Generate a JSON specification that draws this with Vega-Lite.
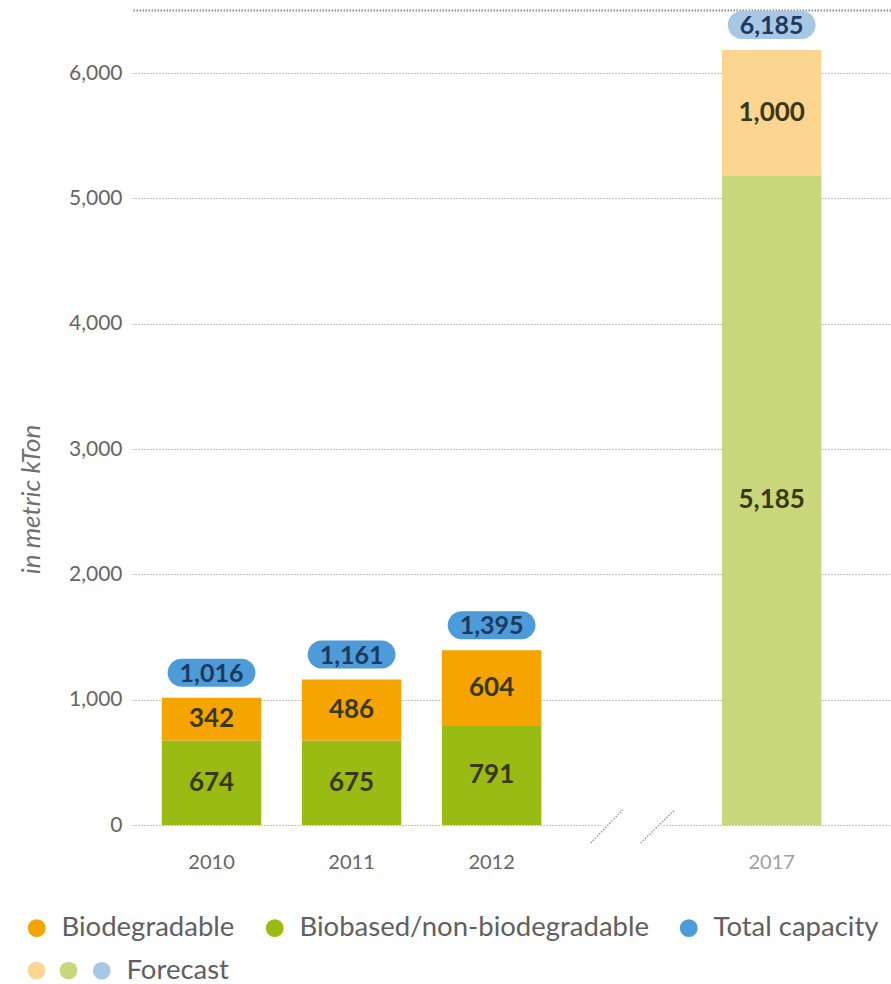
{
  "$schema": "https://vega.github.io/schema/vega-lite/v6.json",
  "width": 759,
  "height": 802,
  "autosize": "none",
  "padding": {"left": 132, "top": 23, "right": 0, "bottom": 159},
  "background": "white",
  "config": {"view": {"stroke": null}, "font": "Lato", "legend": {"padding": 0}},
  "datasets": {
    "bars": [
      {"year": "2010", "series": "Biobased/non-biodegradable", "status": "Actual", "value": 674},
      {"year": "2010", "series": "Biodegradable", "status": "Actual", "value": 342},
      {"year": "2011", "series": "Biobased/non-biodegradable", "status": "Actual", "value": 675},
      {"year": "2011", "series": "Biodegradable", "status": "Actual", "value": 486},
      {"year": "2012", "series": "Biobased/non-biodegradable", "status": "Actual", "value": 791},
      {"year": "2012", "series": "Biodegradable", "status": "Actual", "value": 604},
      {"year": "2017", "series": "Biobased forecast", "status": "Forecast", "value": 5185},
      {"year": "2017", "series": "Biodegradable forecast", "status": "Forecast", "value": 1000}
    ],
    "totals": [
      {"year": "2010", "series": "Total capacity", "value": 1016},
      {"year": "2011", "series": "Total capacity", "value": 1161},
      {"year": "2012", "series": "Total capacity", "value": 1395},
      {"year": "2017", "series": "Total capacity forecast", "value": 6185}
    ],
    "gap": [{"year": "gap"}]
  },
  "layer": [
    {
      "data": {"name": "bars"},
      "mark": {"type": "bar"},
      "encoding": {
        "x": {
          "field": "year", "type": "nominal",
          "scale": {"domain": ["2010", "2011", "2012", "gap", "2017"], "paddingInner": 0.29, "paddingOuter": 0.355, "align": 0.3},
          "axis": {
            "title": null, "domain": false, "ticks": false, "grid": false, "labelAngle": 0, "labelPadding": 27,
            "labelFont": "Lato", "labelFontSize": 20, "labelExpr": "datum.value == 'gap' ? '' : datum.value",
            "labelColor": {"condition": {"test": "datum.value == '2017'", "value": "#a0a0a0"}, "value": "#666666"}
          }
        },
        "y": {
          "field": "value", "type": "quantitative", "stack": "zero",
          "scale": {"domain": [0, 6400], "nice": false, "zero": false},
          "axis": {
            "values": [0, 1000, 2000, 3000, 4000, 5000, 6000],
            "labelExpr": "format(datum.value, ',')",
            "domain": false, "ticks": false, "grid": true, "gridColor": "#8a8a8a", "gridDash": [1, 2], "gridWidth": 1,
            "labelFont": "Lato", "labelFontSize": 21, "labelColor": "#666666", "labelPadding": 10,
            "title": "in metric kTon", "titleFont": "Lato", "titleFontStyle": "italic", "titleFontWeight": "normal",
            "titleFontSize": 26, "titleColor": "#707070", "titleAngle": 270, "titleX": -93, "titleY": 476,
            "titleAlign": "center", "titleBaseline": "alphabetic"
          }
        },
        "color": {
          "field": "series", "type": "nominal",
          "scale": {
            "domain": ["Biodegradable", "Biobased/non-biodegradable", "Total capacity", "Biodegradable forecast", "Biobased forecast", "Total capacity forecast"],
            "range": ["#f5a400", "#9aba14", "#4d9bd8", "#fcd591", "#c8d67c", "#a6c7e6"]
          },
          "legend": {
            "values": ["Biodegradable", "Biobased/non-biodegradable", "Total capacity"],
            "title": null, "orient": "none", "legendX": -109, "legendY": 891, "direction": "horizontal",
            "symbolType": "circle", "symbolSize": 314, "symbolStrokeWidth": 0,
            "labelFont": "Lato", "labelFontSize": 27.5, "labelColor": "#606060", "labelOffset": 11, "columnPadding": 26,
            "labelLimit": 500
          }
        },
        "order": {"field": "series", "sort": "ascending"},
        "strokeWidth": {
          "field": "status", "type": "nominal",
          "scale": {"domain": ["Forecast", "Actual"], "range": [0, 0]},
          "legend": {
            "values": ["Forecast"], "labelExpr": "''", "title": null, "orient": "none", "legendX": -109, "legendY": 934,
            "symbolType": "circle", "symbolSize": 314, "symbolFillColor": "#fcd591", "symbolStrokeColor": "transparent",
            "symbolOpacity": 1, "labelOffset": 0, "labelFontSize": 27
          }
        },
        "opacity": {
          "field": "series", "type": "nominal",
          "scale": {"domain": ["Biobased forecast", "Biodegradable forecast", "Biodegradable", "Biobased/non-biodegradable"], "range": [1, 1, 1, 1]},
          "legend": {
            "values": ["Biobased forecast"], "labelExpr": "''", "title": null, "orient": "none", "legendX": -77, "legendY": 934,
            "symbolType": "circle", "symbolSize": 314, "symbolFillColor": "#c8d67c", "symbolStrokeColor": "transparent",
            "symbolStrokeWidth": 0, "labelOffset": 0, "labelFontSize": 27
          }
        },
        "stroke": {
          "field": "year", "type": "nominal",
          "scale": {"domain": ["2017", "2010", "2011", "2012"], "range": ["transparent", "transparent", "transparent", "transparent"]},
          "legend": {
            "values": ["2017"], "labelExpr": "'Forecast'", "title": null, "orient": "none", "legendX": -44, "legendY": 934,
            "symbolType": "circle", "symbolSize": 314, "symbolFillColor": "#a6c7e6", "symbolOpacity": 1, "labelOffset": 11,
            "labelFont": "Lato", "labelFontSize": 27.5, "labelColor": "#606060"
          }
        }
      }
    },
    {
      "data": {"values": [{}]},
      "mark": {"type": "rule", "color": "#8a8a8a", "strokeDash": [1.5, 1.5], "strokeWidth": 2},
      "encoding": {
        "y": {"datum": 6500, "type": "quantitative", "scale": {"domain": [0, 6400], "nice": false, "zero": false}}
      }
    },
    {
      "data": {"name": "gap"},
      "mark": {"type": "bar", "color": "white", "size": 62},
      "encoding": {
        "x": {"field": "year", "type": "nominal", "scale": {"domain": ["2010", "2011", "2012", "gap", "2017"], "paddingInner": 0.29, "paddingOuter": 0.355, "align": 0.3}},
        "y": {"datum": -60, "type": "quantitative", "scale": {"domain": [0, 6400], "nice": false, "zero": false}},
        "y2": {"datum": 60}
      }
    },
    {
      "data": {"name": "gap"},
      "mark": {"type": "rule", "color": "#999999", "strokeDash": [1.5, 1.5], "strokeWidth": 1.5, "xOffset": -41, "x2Offset": -9},
      "encoding": {
        "x": {"field": "year", "type": "nominal", "bandPosition": 0.5, "scale": {"domain": ["2010", "2011", "2012", "gap", "2017"], "paddingInner": 0.29, "paddingOuter": 0.355, "align": 0.3}},
        "x2": {"field": "year", "bandPosition": 0.5},
        "y": {"datum": -144, "type": "quantitative", "scale": {"domain": [0, 6400], "nice": false, "zero": false}},
        "y2": {"datum": 120}
      }
    },
    {
      "data": {"name": "gap"},
      "mark": {"type": "rule", "color": "#999999", "strokeDash": [1.5, 1.5], "strokeWidth": 1.5, "xOffset": 9, "x2Offset": 43},
      "encoding": {
        "x": {"field": "year", "type": "nominal", "bandPosition": 0.5, "scale": {"domain": ["2010", "2011", "2012", "gap", "2017"], "paddingInner": 0.29, "paddingOuter": 0.355, "align": 0.3}},
        "x2": {"field": "year", "bandPosition": 0.5},
        "y": {"datum": -144, "type": "quantitative", "scale": {"domain": [0, 6400], "nice": false, "zero": false}},
        "y2": {"datum": 120}
      }
    },
    {
      "data": {"name": "bars"},
      "mark": {"type": "text", "font": "Lato", "fontSize": 26, "fontWeight": "bold", "baseline": "middle", "color": "#3a3812"},
      "encoding": {
        "x": {"field": "year", "type": "nominal", "scale": {"domain": ["2010", "2011", "2012", "gap", "2017"], "paddingInner": 0.29, "paddingOuter": 0.355, "align": 0.3}},
        "y": {"field": "value", "type": "quantitative", "stack": "zero", "bandPosition": 0.5, "scale": {"domain": [0, 6400], "nice": false, "zero": false}},
        "detail": {"field": "series", "type": "nominal"},
        "order": {"field": "series", "sort": "ascending"},
        "text": {"field": "value", "type": "quantitative", "format": ","}
      }
    },
    {
      "data": {"name": "totals"},
      "mark": {"type": "point", "filled": true, "strokeWidth": 0, "size": 7744, "yOffset": -25, "opacity": 1,
        "shape": "M-0.68,-0.318 L0.68,-0.318 A0.318,0.318 0 0 1 0.68,0.318 L-0.68,0.318 A0.318,0.318 0 0 1 -0.68,-0.318 Z"},
      "encoding": {
        "x": {"field": "year", "type": "nominal", "scale": {"domain": ["2010", "2011", "2012", "gap", "2017"], "paddingInner": 0.29, "paddingOuter": 0.355, "align": 0.3}},
        "y": {"field": "value", "type": "quantitative", "scale": {"domain": [0, 6400], "nice": false, "zero": false}},
        "color": {
          "field": "series", "type": "nominal",
          "scale": {
            "domain": ["Biodegradable", "Biobased/non-biodegradable", "Total capacity", "Biodegradable forecast", "Biobased forecast", "Total capacity forecast"],
            "range": ["#f5a400", "#9aba14", "#4d9bd8", "#fcd591", "#c8d67c", "#a6c7e6"]
          }
        }
      }
    },
    {
      "data": {"name": "totals"},
      "mark": {"type": "text", "font": "Lato", "fontSize": 25, "fontWeight": "bold", "baseline": "middle", "yOffset": -24, "color": "#1c3a5e"},
      "encoding": {
        "x": {"field": "year", "type": "nominal", "scale": {"domain": ["2010", "2011", "2012", "gap", "2017"], "paddingInner": 0.29, "paddingOuter": 0.355, "align": 0.3}},
        "y": {"field": "value", "type": "quantitative", "scale": {"domain": [0, 6400], "nice": false, "zero": false}},
        "text": {"field": "value", "type": "quantitative", "format": ","}
      }
    }
  ]
}
